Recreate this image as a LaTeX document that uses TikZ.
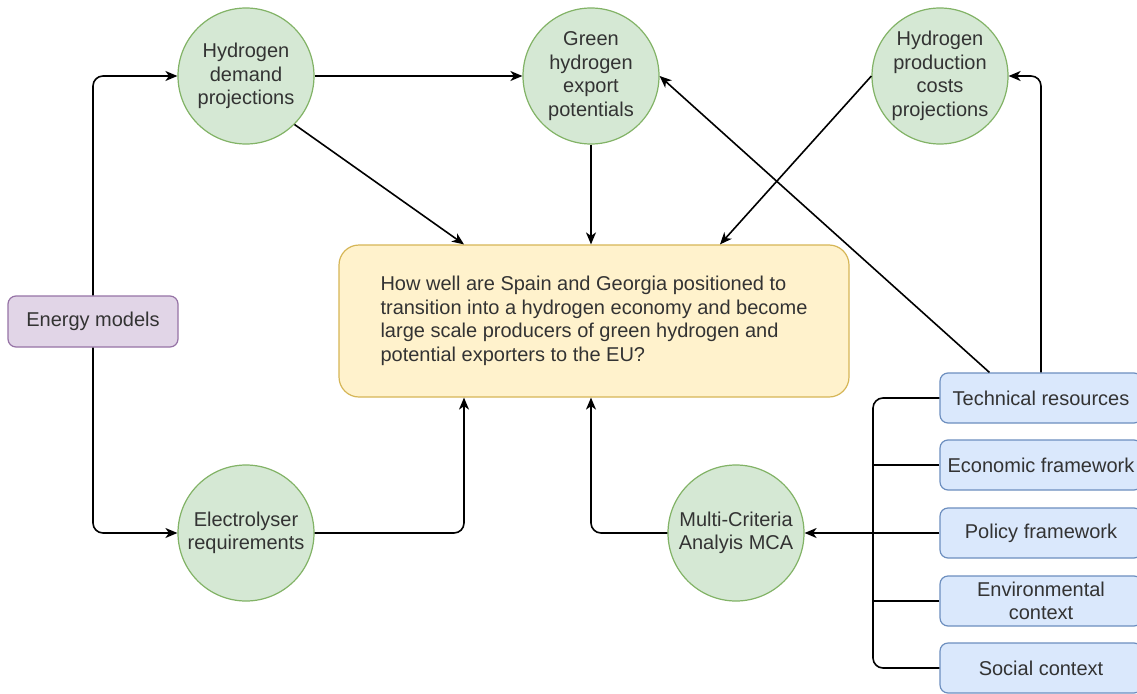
\documentclass[tikz,border=0pt]{standalone}
\usepackage{fontspec}
\setmainfont{Liberation Sans}
\usetikzlibrary{arrows.meta,calc}
\definecolor{gfill}{HTML}{D5E8D4}
\definecolor{gline}{HTML}{82B366}
\definecolor{yfill}{HTML}{FFF2CC}
\definecolor{yline}{HTML}{D6B656}
\definecolor{bfill}{HTML}{DAE8FC}
\definecolor{bline}{HTML}{6C8EBF}
\definecolor{pfill}{HTML}{E1D5E7}
\definecolor{pline}{HTML}{9673A6}
\definecolor{txt}{HTML}{333333}
\tikzset{
  circ/.style={circle, draw=gline, fill=gfill, line width=1.2pt, minimum size=136pt, inner sep=0pt, align=center},
  qbox/.style={rectangle, rounded corners=20pt, draw=yline, fill=yfill, line width=1.2pt, minimum width=510pt, minimum height=152pt, align=left, inner sep=0pt},
  ebox/.style={rectangle, rounded corners=8pt, draw=pline, fill=pfill, line width=1.2pt, minimum width=170pt, minimum height=51pt, inner sep=0pt},
  bbox/.style={rectangle, rounded corners=8pt, draw=bline, fill=bfill, line width=1.2pt, minimum width=202pt, minimum height=50pt, inner sep=0pt, align=center},
  conn/.style={draw=black, line width=1.6pt},
  arr/.style={conn, -{Stealth[length=12pt,width=10pt,inset=3.5pt]}},
}
\begin{document}
\begin{tikzpicture}[x=1pt,y=-1pt, font=\fontsize{20pt}{23.5pt}\selectfont, text=txt]
\clip (0,0) rectangle (1137,693);
\fill[white] (0,0) rectangle (1137,693);
% nodes
\node[circ] (demand) at (246,76) {Hydrogen\\demand\\projections};
\node[circ] (export) at (591,76) {Green\\hydrogen\\export\\potentials};
\node[circ] (prod) at (940,76) {Hydrogen\\production\\costs\\projections};
\node[circ] (electro) at (246,533) {Electrolyser\\requirements};
\node[circ] (mca) at (736,533) {Multi-Criteria\\Analyis MCA};
\node[ebox] (energy) at (93,321.5) {Energy models};
\node[qbox] (q) at (594,321) {How well are Spain and Georgia positioned to\\transition into a hydrogen economy and become\\large scale producers of green hydrogen and\\potential exporters to the EU?};
\node[bbox] (tech) at (1041,398) {Technical resources};
\node[bbox] (econ) at (1041,465) {Economic framework};
\node[bbox] (policy) at (1041,533) {Policy framework};
\node[bbox] (env) at (1041,601) {Environmental\\context};
\node[bbox] (social) at (1041,668) {Social context};
% coordinates
\coordinate (qt1) at ([xshift=-130pt]q.north);
\coordinate (qt3) at ([xshift=126pt]q.north);
\coordinate (qb1) at ([xshift=-130pt]q.south);
\coordinate (j) at (873,533);
\coordinate (tt1) at ([xshift=50pt]tech.north west);
% connectors
\draw[arr, rounded corners=10pt] (energy.north) |- (demand.west);
\draw[arr, rounded corners=10pt] (energy.south) |- (electro.west);
\draw[arr] (demand.east) -- (export.west);
\draw[arr] (demand.south east) -- (qt1);
\draw[arr] (export.south) -- (export.south |- q.north);
\draw[arr] (prod.west) -- (qt3);
\draw[arr] (tt1) -- (export.east);
\draw[arr, rounded corners=10pt] (tech.north) |- (prod.east);
\draw[arr, rounded corners=10pt] (electro.east) -| (qb1);
\draw[arr, rounded corners=10pt] (mca.west) -| (export.south |- q.south);
\draw[conn, rounded corners=10pt] (tech.west) -| (j);
\draw[conn, rounded corners=10pt] (social.west) -| (j);
\draw[conn] (econ.west) -| (j);
\draw[conn] (env.west) -| (j);
\draw[arr] (policy.west) -- (mca.east);
\end{tikzpicture}
\end{document}
